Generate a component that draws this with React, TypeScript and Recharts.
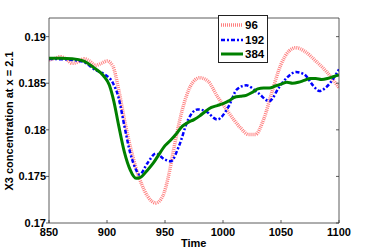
import React from "react";
import { LineChart, Line, XAxis, YAxis } from "recharts";

const TIME_96 = [850, 855, 860, 865, 870, 875, 880, 885, 890, 895, 900, 905, 910, 915, 920, 925, 930, 935, 942, 948, 953, 958, 965, 972, 980, 987, 995, 1005, 1015, 1022, 1028, 1035, 1042, 1050, 1057, 1063, 1070, 1080, 1090, 1100];
const X3_96 = [0.18749, 0.18767, 0.18785, 0.18756, 0.18713, 0.18728, 0.18763, 0.18738, 0.18692, 0.18713, 0.18738, 0.18685, 0.18434, 0.18111, 0.17824, 0.17591, 0.17412, 0.17287, 0.17215, 0.17287, 0.17502, 0.17824, 0.18219, 0.1847, 0.18559, 0.18523, 0.18362, 0.18183, 0.18022, 0.1795, 0.1795, 0.18111, 0.18398, 0.18703, 0.18846, 0.18882, 0.18846, 0.18738, 0.18613, 0.18452];

const TIME_192 = [850, 860, 870, 880, 890, 898, 905, 910, 915, 920, 925, 928, 935, 942, 950, 955, 962, 970, 978, 985, 995, 1005, 1012, 1020, 1030, 1040, 1048, 1055, 1063, 1070, 1078, 1083, 1090, 1100];
const X3_192 = [0.1876, 0.18758, 0.1875, 0.18728, 0.18642, 0.18595, 0.18505, 0.18344, 0.1804, 0.17753, 0.17573, 0.1752, 0.17645, 0.17745, 0.1768, 0.17663, 0.17824, 0.18111, 0.18219, 0.18201, 0.18111, 0.18254, 0.18434, 0.18477, 0.18398, 0.18308, 0.1845, 0.18559, 0.1862, 0.18595, 0.1847, 0.18416, 0.1847, 0.18649];

const TIME_384 = [850, 860, 870, 880, 890, 897, 902, 906, 910, 915, 920, 925, 928, 935, 940, 945, 950, 955, 960, 965, 970, 975, 980, 985, 990, 995, 1000, 1005, 1010, 1015, 1020, 1025, 1030, 1035, 1040, 1045, 1050, 1055, 1060, 1065, 1070, 1075, 1080, 1085, 1090, 1095, 1100];
const X3_384 = [0.18767, 0.18767, 0.18762, 0.18738, 0.18655, 0.1858, 0.1848, 0.183, 0.1805, 0.1776, 0.1757, 0.1748, 0.17485, 0.1757, 0.17645, 0.1774, 0.1783, 0.1789, 0.1796, 0.1804, 0.1808, 0.1811, 0.1815, 0.182, 0.1824, 0.1826, 0.1828, 0.1831, 0.1835, 0.1836, 0.1837, 0.184, 0.1844, 0.1845, 0.1845, 0.1847, 0.1849, 0.1851, 0.185, 0.1851, 0.1853, 0.1855, 0.1855, 0.1854, 0.1855, 0.1857, 0.1859];

const X_TICKS = [850, 900, 950, 1000, 1050, 1100];
const Y_TICKS = [0.17, 0.175, 0.18, 0.185, 0.19];
const SERIES_NAMES = ["96", "192", "384"];

const d96 = TIME_96.map((t, i) => ({ t, v: X3_96[i] }));
const d192 = TIME_192.map((t, i) => ({ t, v: X3_192[i] }));
const d384 = TIME_384.map((t, i) => ({ t, v: X3_384[i] }));

const FONT = "'Liberation Sans', Arial, Helvetica, sans-serif";
const AX = "#333";

const BottomTick = (p: any) => (
  <g>
    <line x1={p.x} y1={p.y} x2={p.x} y2={p.y - 3} stroke={AX} strokeWidth={0.8} />
    <text x={p.x} y={p.y + 13} textAnchor="middle" fontFamily={FONT} fontWeight="bold" fontSize={11} fill="#000">
      {p.payload.value}
    </text>
  </g>
);
const TopTick = (p: any) => (
  <line x1={p.x} y1={p.y} x2={p.x} y2={p.y + 3} stroke={AX} strokeWidth={0.8} />
);
const LeftTick = (p: any) => (
  <g>
    <line x1={p.x - 3} y1={p.y} x2={p.x} y2={p.y} stroke={AX} strokeWidth={0.8} />
    <text x={p.x - 3} y={p.y + 4} textAnchor="end" fontFamily={FONT} fontWeight="bold" fontSize={11} fill="#000">
      {String(p.payload.value)}
    </text>
  </g>
);
const RightTick = (p: any) => (
  <line x1={p.x - 3} y1={p.y} x2={p.x} y2={p.y} stroke={AX} strokeWidth={0.8} />
);

const RED = "#ff8080";
const BLUE = "#0000ff";
const GREEN = "#008000";

const legendStyles = [
  { stroke: RED, width: 3.5, dash: "1 1" },
  { stroke: BLUE, width: 2.5, dash: "4 2 2 2" },
  { stroke: GREEN, width: 3, dash: undefined as string | undefined },
];

export default function App() {
  return (
    <div style={{ position: "absolute", left: 0, top: 0, width: 374, height: 252, background: "#fff" }}>
      <LineChart width={374} height={252} margin={{ top: 13, right: 30, bottom: 9, left: 9 }}>
        <XAxis xAxisId="b" dataKey="t" type="number" domain={[850, 1100]} ticks={X_TICKS} allowDataOverflow
          height={20} tickSize={0} tickMargin={0} tickLine={false} tick={BottomTick} axisLine={{ stroke: AX, strokeWidth: 0.8 }}
          label={{ content: () => (
            <text x={193.7} y={247} textAnchor="middle" fontFamily={FONT} fontWeight="bold" fontSize={11} fill="#000">Time</text>
          ) }} />
        <XAxis xAxisId="t" orientation="top" type="number" domain={[850, 1100]} ticks={X_TICKS} allowDataOverflow
          height={5} tickSize={0} tickMargin={0} tickLine={false} tick={TopTick} axisLine={{ stroke: AX, strokeWidth: 0.8 }} />
        <YAxis yAxisId="l" type="number" domain={[0.17, 0.192]} ticks={Y_TICKS} allowDataOverflow
          width={40} tickSize={0} tickMargin={0} tickLine={false} tick={LeftTick} axisLine={{ stroke: AX, strokeWidth: 0.8 }}
          label={{ content: () => (
            <text x={0} y={0} transform="translate(13,121) rotate(-90)" textAnchor="middle" fontFamily={FONT} fontWeight="bold" fontSize={11} fill="#000">
              X3 concentration at x = 2.1
            </text>
          ) }} />
        <YAxis yAxisId="r" orientation="right" type="number" domain={[0.17, 0.192]} ticks={Y_TICKS} allowDataOverflow
          width={5} tickSize={0} tickMargin={0} tickLine={false} tick={RightTick} axisLine={{ stroke: AX, strokeWidth: 0.8 }} />
        <Line xAxisId="b" yAxisId="l" data={d96} dataKey="v" name={SERIES_NAMES[0]} type="monotone"
          stroke={RED} strokeWidth={3.5} strokeDasharray="1 1" dot={false} isAnimationActive={false} />
        <Line xAxisId="b" yAxisId="l" data={d192} dataKey="v" name={SERIES_NAMES[1]} type="monotone"
          stroke={BLUE} strokeWidth={2.5} strokeDasharray="4 2 2 2" dot={false} isAnimationActive={false} />
        <Line xAxisId="b" yAxisId="l" data={d384} dataKey="v" name={SERIES_NAMES[2]} type="monotone"
          stroke={GREEN} strokeWidth={3} dot={false} isAnimationActive={false} />
      </LineChart>
      <div style={{ position: "absolute", left: 218, top: 15, width: 50, height: 48, border: "1px solid #222", background: "#fff", boxSizing: "border-box" }}>
        {SERIES_NAMES.map((n, i) => (
          <div key={n} style={{ position: "absolute", left: 2, top: 2 + i * 14.5, height: 14, display: "flex", alignItems: "center" }}>
            <svg width={22} height={14} style={{ display: "block" }}>
              <line x1={0} y1={7} x2={22} y2={7} stroke={legendStyles[i].stroke} strokeWidth={legendStyles[i].width}
                strokeDasharray={legendStyles[i].dash} />
            </svg>
            <span style={{ fontFamily: FONT, fontWeight: "bold", fontSize: 11.5, marginLeft: 2, lineHeight: "14px" }}>{n}</span>
          </div>
        ))}
      </div>
    </div>
  );
}
